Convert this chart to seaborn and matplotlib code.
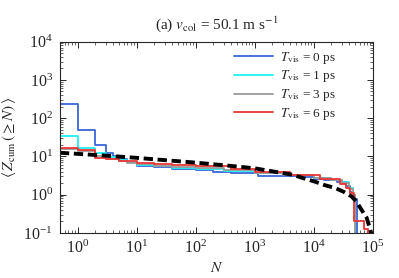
import numpy as np
import pandas as pd
import seaborn as sns
import matplotlib
matplotlib.use("Agg")
import matplotlib.pyplot as plt
from matplotlib.ticker import LogLocator, NullFormatter

# ---- data ----
N_t0 = [0.5, 1, 2, 3, 4, 5, 7, 10, 20, 40, 100, 200, 400, 1150, 3000, 6000,
        1e4, 1.5e4, 2.5e4, 3.5e4, 4.2e4, 4.6e4, 5.0e4, 5.4e4, 1e5]
Z_t0 = [235, 48, 20, 12.3, 10.5, 8.5, 7.0, 5.8, 5.3, 4.8, 4.4, 4.0, 3.7, 3.1, 3.0, 2.9,
        2.6, 2.4, 2.1, 1.7, 1.2, 1.0, 0.75, 0.05, 0.05]

N_t1 = [0.5, 1, 2, 3, 5, 7, 10, 20, 40, 100, 300, 1000, 3000, 1e4, 2e4, 3e4,
        4e4, 4.6e4, 5e4, 1e5]
Z_t1 = [35, 16.6, 12, 9.5, 8.0, 7.0, 6.0, 5.5, 5.1, 4.6, 4.2, 3.6, 3.2, 2.7, 2.4, 2.1,
        1.5, 0.9, 0.05, 0.05]

N_t3 = [0.5, 1, 2, 3, 5, 7, 10, 20, 40, 100, 300, 1000, 3000, 1e4, 2e4, 3e4,
        4e4, 4.6e4, 5e4, 1e5]
Z_t3 = [16, 14, 10, 8.5, 7.5, 6.7, 6.2, 5.7, 5.3, 4.9, 4.4, 3.8, 3.3, 2.7, 2.4, 2.0,
        1.4, 0.9, 0.05, 0.05]

N_t6 = [0.5, 1, 2, 3, 5, 10, 20, 40, 100, 400, 1000, 4000, 1.3e4, 2.8e4, 3.5e4,
        4.2e4, 4.8e4, 7.1e4, 8.2e4, 1e5]
Z_t6 = [16.5, 14.5, 9.3, 8.5, 7.4, 6.6, 6.3, 6.0, 5.6, 4.6, 4.0, 3.3, 2.6, 1.9, 1.5,
        1.1, 0.21, 0.125, 0.05, 0.05]

N_fit = [0.5, 1, 3, 10, 37, 100, 380, 1000, 4500, 6700, 1.05e4, 1.5e4, 2.3e4, 3.2e4,
         4.4e4, 5.3e4, 6.5e4, 7.9e4, 9e4, 9.8e4]
Z_fit = [12.5, 11.7, 10.5, 9.2, 7.8, 6.9, 5.7, 4.9, 3.3, 2.7, 2.2, 1.8, 1.5, 1.2,
         0.9, 0.66, 0.4, 0.25, 0.13, 0.08]

labels = [r"$T_\mathrm{vis}$ = 0 ps", r"$T_\mathrm{vis}$ = 1 ps",
          r"$T_\mathrm{vis}$ = 3 ps", r"$T_\mathrm{vis}$ = 6 ps"]
colors = ["#3a66d8", "#1ff0f0", "#9a9a9a", "#ec3636"]

frames = []
for lab, n, z in zip(labels, [N_t0, N_t1, N_t3, N_t6], [Z_t0, Z_t1, Z_t3, Z_t6]):
    frames.append(pd.DataFrame({"N": n, "Z": z, "series": lab}))
df = pd.concat(frames, ignore_index=True)
df_fit = pd.DataFrame({"N": N_fit, "Z": Z_fit})

# ---- style ----
sns.set_style("ticks")
plt.rcParams["font.family"] = ["Liberation Serif", "DejaVu Serif"]
plt.rcParams["mathtext.fontset"] = "stix"
plt.rcParams["font.size"] = 10.5

fig = plt.figure(figsize=(3.99, 2.78), dpi=100)
ax = fig.add_axes([0.150, 0.162, 0.784, 0.688])

sns.lineplot(data=df, x="N", y="Z", hue="series", hue_order=labels,
             palette=colors, drawstyle="steps-post", linewidth=1.3,
             estimator=None, sort=False, ax=ax)
sns.lineplot(data=df_fit, x="N", y="Z", color="black", linewidth=2.8,
             estimator=None, sort=False, ax=ax, legend=False)
ax.lines[-1].set_dashes((2.4, 1.2))

ax.set_xscale("log")
ax.set_yscale("log")
ax.set_xlim(0.5, 1e5)
ax.set_ylim(0.1, 1e4)

ax.xaxis.set_major_locator(LogLocator(base=10, numticks=10))
ax.yaxis.set_major_locator(LogLocator(base=10, numticks=10))
ax.xaxis.set_minor_locator(LogLocator(base=10, subs=np.arange(2, 10), numticks=20))
ax.yaxis.set_minor_locator(LogLocator(base=10, subs=np.arange(2, 10), numticks=20))
ax.xaxis.set_minor_formatter(NullFormatter())
ax.yaxis.set_minor_formatter(NullFormatter())

ax.tick_params(which="both", direction="in", top=True, right=True, labelsize=11.5)
ax.tick_params(which="major", length=4, width=0.7, pad=5)
ax.tick_params(which="minor", length=2, width=0.5)
for s in ax.spines.values():
    s.set_linewidth(0.8)

ax.set_xlabel(r"$N$", fontsize=11, labelpad=3)
ax.set_ylabel(r"$\langle\, Z_\mathrm{cum}\,(\geq N)\,\rangle$", fontsize=11, labelpad=4)
ax.set_title(r"(a) $v_\mathrm{col}$ = 50.1 m s$^{-1}$", fontsize=11, pad=9)

leg = ax.legend(loc="upper right", bbox_to_anchor=(0.9, 0.985), frameon=False,
                fontsize=9.5, handlelength=3.0, labelspacing=0.2,
                borderaxespad=0.0, handletextpad=0.5)

fig.savefig("out.png", dpi=100)
